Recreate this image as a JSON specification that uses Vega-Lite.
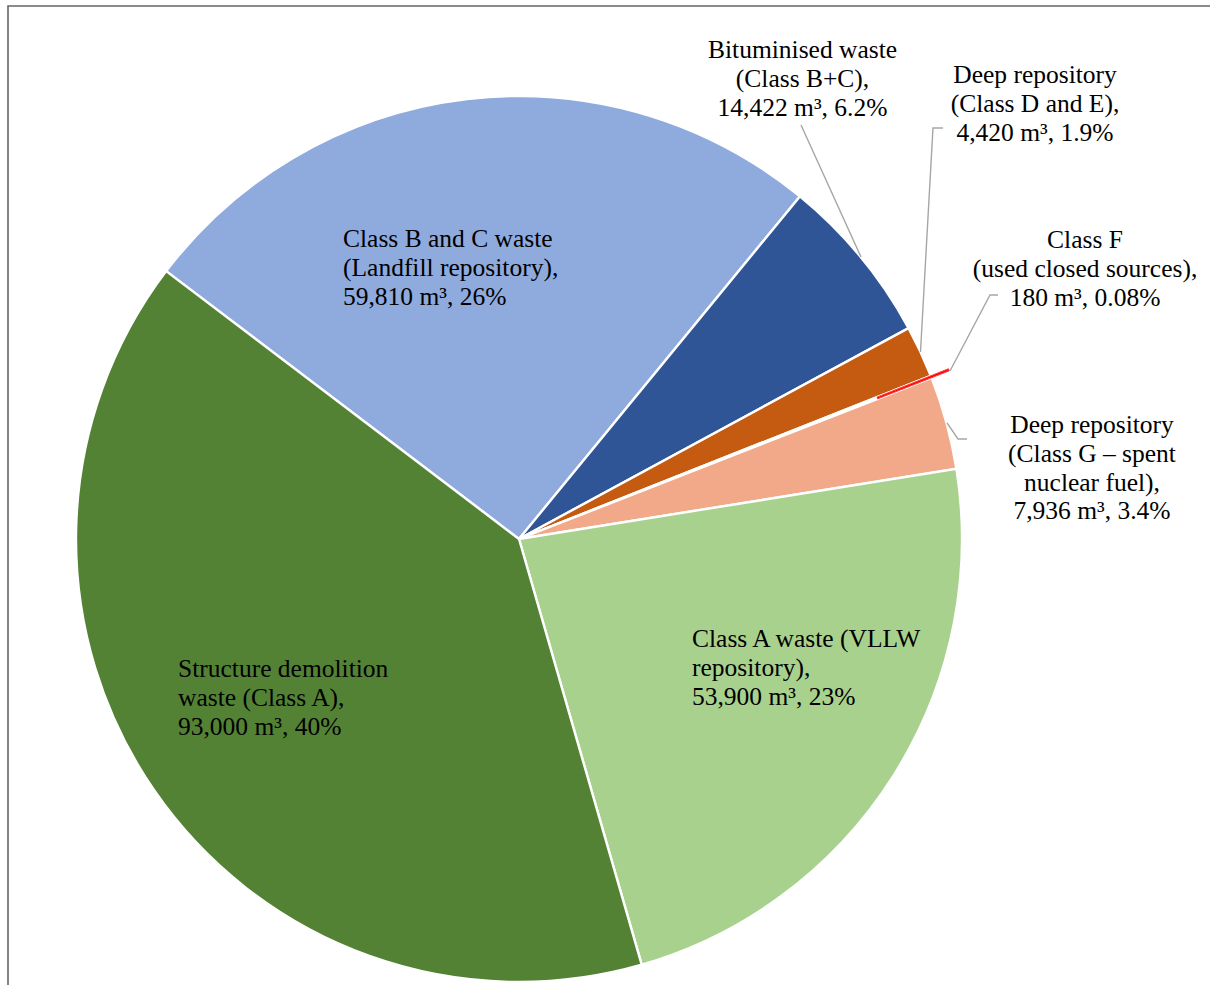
{
  "$schema": "https://vega.github.io/schema/vega-lite/v6.json",
  "width": 1210,
  "height": 985,
  "autosize": {"type": "none"},
  "padding": {"left": 8, "top": 6, "right": 0, "bottom": 0},
  "background": "white",
  "config": {
    "view": {"stroke": "#666666", "strokeWidth": 1.6},
    "text": {"font": "Liberation Serif"}
  },
  "datasets": {
    "waste": [
      {"rank": 1, "category": "Class B and C waste (Landfill repository)", "volume": 59810},
      {"rank": 2, "category": "Bituminised waste (Class B+C)", "volume": 14422},
      {"rank": 3, "category": "Deep repository (Class D and E)", "volume": 4420},
      {"rank": 4, "category": "Class F (used closed sources)", "volume": 180},
      {"rank": 5, "category": "Deep repository (Class G – spent nuclear fuel)", "volume": 7936},
      {"rank": 6, "category": "Class A waste (VLLW repository)", "volume": 53900},
      {"rank": 7, "category": "Structure demolition waste (Class A)", "volume": 93000}
    ],
    "labels": [
      {"category": "Class B and C waste (Landfill repository)", "text": "Class B and C waste\n(Landfill repository),\n59,810 m³, 26%", "lx": -0.3973, "ly": 0.6591},
      {"category": "Structure demolition waste (Class A)", "text": "Structure demolition\nwaste (Class A),\n93,000 m³, 40%", "lx": -0.7698, "ly": -0.3115},
      {"category": "Class A waste (VLLW repository)", "text": "Class A waste (VLLW\nrepository),\n53,900 m³, 23%", "lx": 0.3905, "ly": -0.2438},
      {"category": "Bituminised waste (Class B+C)", "text": "Bituminised waste\n(Class B+C),\n14,422 m³, 6.2%", "lx": 0.6400, "ly": 1.0858},
      {"category": "Deep repository (Class D and E)", "text": "Deep repository\n(Class D and E),\n4,420 m³, 1.9%", "lx": 1.1648, "ly": 1.0293},
      {"category": "Class F (used closed sources)", "text": "Class F\n(used closed sources),\n180 m³, 0.08%", "lx": 1.2777, "ly": 0.6569},
      {"category": "Deep repository (Class G – spent nuclear fuel)", "text": "Deep repository\n(Class G – spent\nnuclear fuel),\n7,936 m³, 3.4%", "lx": 1.2935, "ly": 0.2393}
    ],
    "leaders": [
      {"category": "Bituminised waste (Class B+C)", "pt": 1, "ux": 0.6366, "uy": 0.9345},
      {"category": "Bituminised waste (Class B+C)", "pt": 2, "ux": 0.7720, "uy": 0.6366},
      {"category": "Deep repository (Class D and E)", "pt": 1, "ux": 0.9571, "uy": 0.9278},
      {"category": "Deep repository (Class D and E)", "pt": 2, "ux": 0.9345, "uy": 0.9278},
      {"category": "Deep repository (Class D and E)", "pt": 3, "ux": 0.9063, "uy": 0.4221},
      {"category": "Class F (used closed sources)", "pt": 1, "ux": 1.0813, "uy": 0.5508},
      {"category": "Class F (used closed sources)", "pt": 2, "ux": 1.0632, "uy": 0.5508},
      {"category": "Class F (used closed sources)", "pt": 3, "ux": 0.9729, "uy": 0.3792},
      {"category": "Deep repository (Class G – spent nuclear fuel)", "pt": 1, "ux": 1.0113, "uy": 0.2257},
      {"category": "Deep repository (Class G – spent nuclear fuel)", "pt": 2, "ux": 0.9910, "uy": 0.2257},
      {"category": "Deep repository (Class G – spent nuclear fuel)", "pt": 3, "ux": 0.9661, "uy": 0.2619}
    ]
  },
  "layer": [
    {
      "data": {"name": "waste"},
      "transform": [
        {"stack": "volume", "groupby": [], "sort": [{"field": "rank", "order": "ascending"}], "as": ["v0", "v1"]}
      ],
      "mark": {"type": "arc", "outerRadius": 443, "stroke": "white", "strokeWidth": 2.4},
      "encoding": {
        "x": {"datum": 0, "type": "quantitative", "scale": {"domain": [-1.153499, 1.577878], "nice": false, "zero": false}, "axis": null},
        "y": {"datum": 0, "type": "quantitative", "scale": {"domain": [-1.020316, 1.20316], "nice": false, "zero": false}, "axis": null},
        "theta": {"field": "v0", "type": "quantitative", "scale": {"domain": [0, 233668], "range": [5.3617, 11.6449]}},
        "theta2": {"field": "v1"},
        "color": {
          "field": "category",
          "type": "nominal",
          "scale": {
            "domain": [
              "Class B and C waste (Landfill repository)",
              "Bituminised waste (Class B+C)",
              "Deep repository (Class D and E)",
              "Class F (used closed sources)",
              "Deep repository (Class G – spent nuclear fuel)",
              "Class A waste (VLLW repository)",
              "Structure demolition waste (Class A)"
            ],
            "range": ["#8FAADC", "#2F5597", "#C55A11", "#FF0000", "#F2A98A", "#A9D18E", "#548235"]
          },
          "legend": null
        }
      }
    },
    {
      "data": {"name": "waste"},
      "transform": [
        {"stack": "volume", "groupby": [], "sort": [{"field": "rank", "order": "ascending"}], "as": ["v0", "v1"]},
        {"filter": "datum.category === 'Class F (used closed sources)'"}
      ],
      "mark": {"type": "arc", "outerRadius": 462, "innerRadius": 385, "fill": "#FF0000", "stroke": "#FF4040", "strokeWidth": 1},
      "encoding": {
        "x": {"datum": 0, "type": "quantitative"},
        "y": {"datum": 0, "type": "quantitative"},
        "theta": {"field": "v0", "type": "quantitative"},
        "theta2": {"field": "v1"}
      }
    },
    {
      "data": {"name": "leaders"},
      "mark": {"type": "line", "color": "#A6A6A6", "strokeWidth": 1.4},
      "encoding": {
        "x": {"field": "ux", "type": "quantitative"},
        "y": {"field": "uy", "type": "quantitative"},
        "detail": {"field": "category"},
        "order": {"field": "pt"}
      }
    },
    {
      "data": {"name": "labels"},
      "transform": [
        {"filter": {"field": "category", "oneOf": ["Class B and C waste (Landfill repository)", "Structure demolition waste (Class A)", "Class A waste (VLLW repository)"]}}
      ],
      "mark": {"type": "text", "align": "left", "baseline": "alphabetic", "fontSize": 25.5, "lineHeight": 28.8, "lineBreak": "\n", "color": "#000000"},
      "encoding": {
        "x": {"field": "lx", "type": "quantitative"},
        "y": {"field": "ly", "type": "quantitative"},
        "text": {"field": "text"}
      }
    },
    {
      "data": {"name": "labels"},
      "transform": [
        {"filter": {"not": {"field": "category", "oneOf": ["Class B and C waste (Landfill repository)", "Structure demolition waste (Class A)", "Class A waste (VLLW repository)"]}}}
      ],
      "mark": {"type": "text", "align": "center", "baseline": "alphabetic", "fontSize": 25.5, "lineHeight": 28.8, "lineBreak": "\n", "color": "#000000"},
      "encoding": {
        "x": {"field": "lx", "type": "quantitative"},
        "y": {"field": "ly", "type": "quantitative"},
        "text": {"field": "text"}
      }
    }
  ]
}
